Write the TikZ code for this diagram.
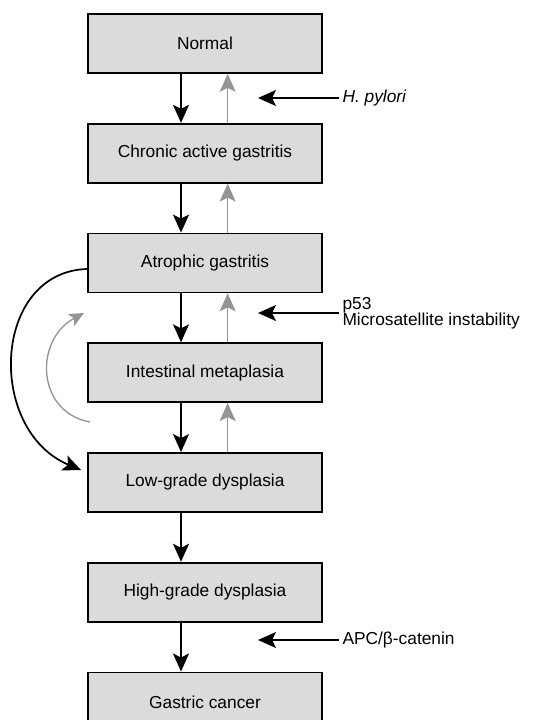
\documentclass[tikz,border=0pt]{standalone}
\usepackage{fontspec}
\setmainfont{Liberation Sans}
\usetikzlibrary{positioning,arrows.meta}

\begin{document}
\begin{tikzpicture}[x=0.75pt,y=-0.75pt,>={Stealth[length=13.5pt,width=12pt,inset=3pt]},
  line width=1.3pt,node distance=36.75pt,font=\fontsize{13}{15.5}\selectfont,
  stage/.style={rectangle,draw,fill=black!14,minimum width=175.5pt,minimum height=44.25pt,inner sep=0pt},
  fwd/.style={->,black},
  back/.style={->,black!42,line width=1pt},
  agent/.style={anchor=west,inner sep=2pt,align=left}]
   \useasboundingbox (0,0) rectangle (539,720);
   \node[stage] (normal)  at (205,43.5)       {Normal};
   \node[stage] (chronic) [below=of normal]  {Chronic active gastritis};
   \node[stage] (atroph)  [below=of chronic] {Atrophic gastritis};
   \node[stage] (intest)  [below=of atroph]  {Intestinal metaplasia};
   \node[stage] (lowgd)   [below=of intest]  {Low-grade dysplasia};
   \node[stage] (highgd)  [below=of lowgd]   {High-grade dysplasia};
   \node[stage] (cancer)  [below=of highgd]  {Gastric cancer};
   % progression and regression
   \foreach \a/\b in {normal/chronic,chronic/atroph,atroph/intest,intest/lowgd,lowgd/highgd,highgd/cancer}
     \draw[fwd] ([xshift=-18pt]\a.south) -- ([xshift=-18pt]\b.north);
   \foreach \a/\b in {chronic/normal,atroph/chronic,intest/atroph,lowgd/intest}
     \draw[back] ([xshift=17pt]\a.north) -- ([xshift=17pt]\b.south);
   % factors
   \node[agent] (hpylori) at (339,98)  {\itshape H. pylori};
   \node[agent] (ptf)     at (339,313) {p53\\[-3.5pt]Microsatellite instability};
   \node[agent] (apc)     at (339,640) {APC/β-catenin};
   \coordinate (hpend)  at (258,98);
   \coordinate (ptfend) at (258,313);
   \coordinate (apcend) at (258,640);
   \draw[->] (hpylori.west) -- (hpend);
   \draw[->] (ptf.west) -- (ptfend);
   \draw[->] (apc.west) -- (apcend);
   % skip and reversal
   \coordinate (skipend) at (81,470);
   \coordinate (revstart) at (90,422);
   \coordinate (revend) at (84,313);
   \draw[fwd] ([yshift=-4.5pt]atroph.west) .. controls (-8,272) and (-14,430) .. (skipend);
   \draw[back,>={Stealth[length=11pt,width=10pt,inset=2.5pt]}]
     (revstart) .. controls (36,412) and (34,340) .. (revend);
\end{tikzpicture}
\end{document}
